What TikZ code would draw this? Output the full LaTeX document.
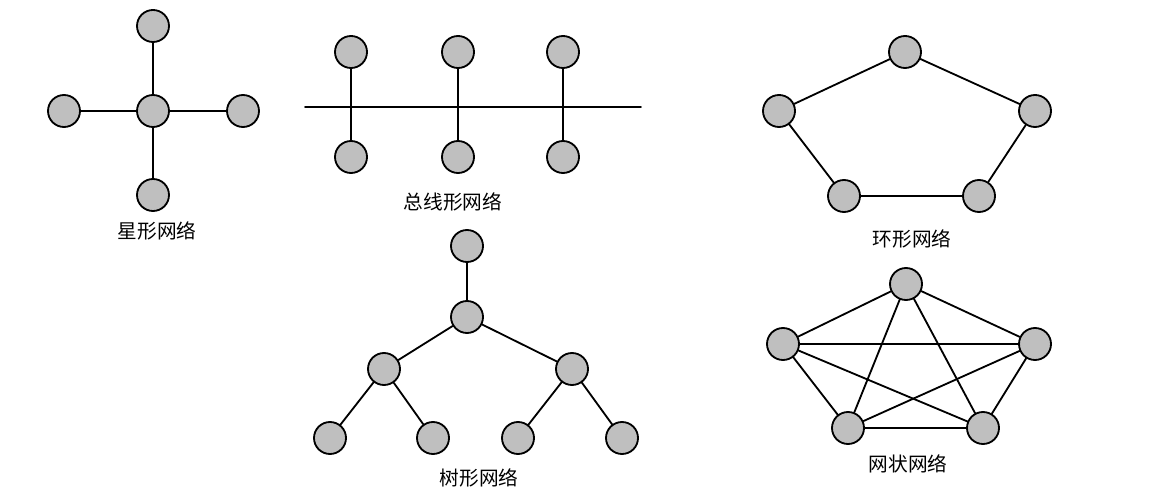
\documentclass[tikz,border=0pt]{standalone}
\usepackage{fontspec}
\newfontfamily\cjk{Noto Sans CJK SC}
\usepackage{tikz}

\begin{document}
\begin{tikzpicture}[x=0.025cm,y=-0.025cm,line cap=round,
  host/.style={circle,draw,line width=1.3pt,fill=gray!50,minimum size=0.8cm,inner sep=0pt},
  link/.style={line width=1.3pt},
  title/.style={font=\cjk\fontsize{14}{16}\selectfont}]
\useasboundingbox (0,0) rectangle (1158,498);
\node[host] (sc) at (153,111) {};
\node[host] (st) at (153,26) {};
\node[host] (sb) at (153,195) {};
\node[host] (sl) at (64,111) {};
\node[host] (sr) at (243,111) {};
\draw[link] (sc) -- (st) (sc) -- (sb) (sc) -- (sl) (sc) -- (sr);
\node[title] (star) at (157,231) {星形网络};
\coordinate (busl) at (305,107);
\coordinate (busr) at (641,107);
\draw[link] (busl) -- (busr);
\foreach \i/\x in {1/351,2/458,3/563}{
  \node[host] (bt\i) at (\x,52) {};
  \node[host] (bb\i) at (\x,157) {};
  \draw[link] (bt\i) -- (bb\i);
}
\node[title] (bus) at (453,202) {总线形网络};
\node[host] (r1) at (905,52) {};
\node[host] (r2) at (1035,111) {};
\node[host] (r3) at (979,196) {};
\node[host] (r4) at (844,196) {};
\node[host] (r5) at (779,111) {};
\draw[link] (r1) -- (r2) -- (r3) -- (r4) -- (r5) -- (r1);
\node[title] (ring) at (912,239) {环形网络};
\node[host] (t0) at (467,246) {};
\node[host] (t1) at (467,317) {};
\node[host] (t2) at (384,369) {};
\node[host] (t3) at (572,369) {};
\node[host] (t4) at (330,438) {};
\node[host] (t5) at (433,438) {};
\node[host] (t6) at (518,438) {};
\node[host] (t7) at (622,438) {};
\draw[link] (t0) -- (t1) (t1) -- (t2) (t1) -- (t3) (t2) -- (t4) (t2) -- (t5) (t3) -- (t6) (t3) -- (t7);
\node[title] (tree) at (479,478) {树形网络};
\node[host] (m1) at (906,284) {};
\node[host] (m2) at (1035,344) {};
\node[host] (m3) at (983,428) {};
\node[host] (m4) at (848,428) {};
\node[host] (m5) at (783,344) {};
\foreach \a/\b in {1/2,1/3,1/4,1/5,2/3,2/4,2/5,3/4,3/5,4/5}
  \draw[link] (m\a) -- (m\b);
\node[title] (mesh) at (908,464) {网状网络};
\end{tikzpicture}
\end{document}
